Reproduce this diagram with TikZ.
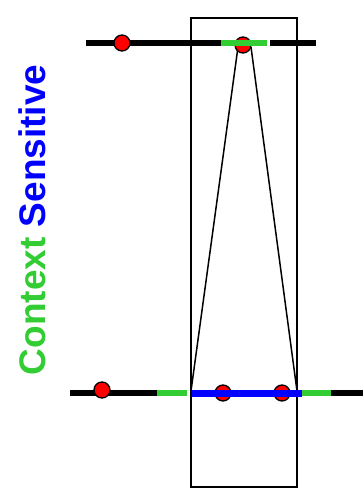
\documentclass[tikz,border=0pt]{standalone}
\usepackage{fontspec}
\setsansfont{Liberation Sans}
\definecolor{ctxgreen}{RGB}{50,205,50}
\begin{document}
\begin{tikzpicture}[x=1pt,y=-1pt]
\tikzstyle{dot}=[circle,draw=black,line width=1.3pt,fill=red,minimum size=16pt,inner sep=0pt]
\tikzstyle{wire}=[draw,line width=6.5pt]
\tikzstyle{ctx}=[draw,ctxgreen,line width=6pt]
\tikzstyle{sens}=[draw,blue,line width=7pt]

\useasboundingbox (0,0) rectangle (363,488);

% window
\draw[line width=1.5pt] (191,18) rectangle (297,487);

% top sequence
\coordinate (t0) at (86,43);
\coordinate (t1) at (221,43);
\coordinate (t2) at (267,43);
\coordinate (t3) at (270,43);
\coordinate (t4) at (316,43);
\path (t0) edge[wire] (t1);
\path (t3) edge[wire] (t4);

% bottom sequence
\coordinate (b0) at (70,393);
\coordinate (b1) at (157,393);
\coordinate (b2) at (187,393);
\coordinate (b3) at (192,393);
\coordinate (b4) at (302,393);
\coordinate (b5) at (331,393);
\coordinate (b6) at (363,393);
\path (b0) edge[wire] (b1);
\path (b5) edge[wire] (b6);

% cone
\coordinate (apexL) at (238,47);
\coordinate (apexR) at (251,47);
\coordinate (footL) at (191,391);
\coordinate (footR) at (297,391);
\draw[line width=1.5pt] (apexL) -- (footL);
\draw[line width=1.5pt] (apexR) -- (footR);

\node[dot] (u1) at (122,43) {};
\node[dot] (u2) at (243,45) {};
\node[dot] (w1) at (102,390) {};
\node[dot] (w2) at (223,393) {};
\node[dot] (w3) at (282,393) {};

\path (t1) edge[ctx] (t2);
\path (b1) edge[ctx] (b2);
\path (b4) edge[ctx] (b5);
\path (b3) edge[sens] (b4);

\node[rotate=90,font=\sffamily\bfseries\fontsize{37}{40}\selectfont,inner sep=0pt] (label) at (32,220)
  {\textcolor{ctxgreen}{Context} \textcolor{blue}{Sensitive}};

\end{tikzpicture}
\end{document}
